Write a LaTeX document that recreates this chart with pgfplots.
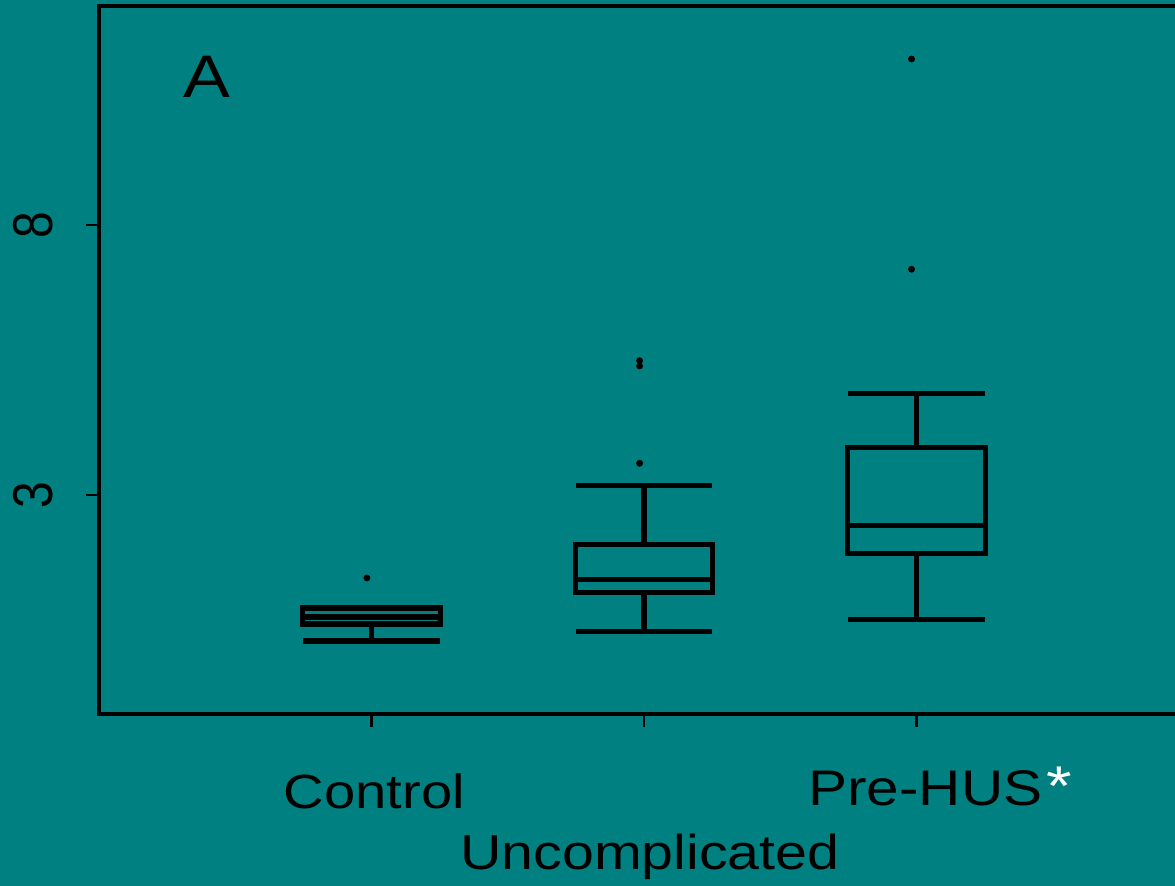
\documentclass[border=0pt]{standalone}
\usepackage{pgfplots}
\pgfplotsset{compat=1.18}
\usepgfplotslibrary{statistics}
\usepackage{graphicx}
\usepackage{fontspec}
\setmainfont{Liberation Sans}[FakeStretch=1.17]
\newfontfamily\plainsans{Liberation Sans}
\definecolor{panelbg}{RGB}{0,128,128}

\begin{document}
\begin{tikzpicture}
% panel background and page extent
\useasboundingbox (-49.5pt,-86pt) rectangle (538pt,357pt);
\fill[panelbg] (-49.5pt,-86pt) rectangle (538pt,357pt);
\clip (-49.5pt,-86pt) rectangle (538pt,357pt);
\begin{axis}[
  scale only axis,
  width=550pt, height=354pt,
  xmin=0, xmax=4.037,
  ymin=-1.056, ymax=12.056,
  clip=false,
  axis line style={line width=1.6pt, black},
  tick style={line width=1.2pt, black},
  tick align=outside,
  xtick pos=bottom, ytick pos=left,
  major tick length=6.5pt,
  xtick={1,2,3}, xticklabels={},
  ytick={3,8},
  yticklabels={\scalebox{1}[1.17]{3},\scalebox{1}[1.17]{8}},
  yticklabel style={rotate=90, anchor=south, inner sep=0pt,
                    font=\plainsans\fontsize{24}{24}\selectfont, yshift=16.5pt},
  boxplot/draw direction=y,
  boxplot/box extend=0.505,
  boxplot/whisker extend=0.5,
]
% Control
\addplot[black, solid, line width=2.6pt,
  boxplot prepared={draw position=1, lower whisker=0.296, lower quartile=0.611,
    median=0.74, upper quartile=0.907, upper whisker=0.907}] coordinates {};
\addplot[only marks, mark=*, mark size=1.5pt, black] coordinates {(0.983,1.463)};
% Uncomplicated
\addplot[black, solid, line width=2.6pt,
  boxplot prepared={draw position=2, lower whisker=0.476, lower quartile=1.20,
    median=1.439, upper quartile=2.087, upper whisker=3.18}] coordinates {};
\addplot[only marks, mark=*, mark size=1.5pt, black]
  coordinates {(1.984,5.487) (1.984,5.389) (1.984,3.587)};
% Pre-HUS
\addplot[black, solid, line width=2.6pt,
  boxplot prepared={draw position=3, lower whisker=0.698, lower quartile=1.920,
    median=2.439, upper quartile=3.883, upper whisker=4.883}] coordinates {};
\addplot[only marks, mark=*, mark size=1.5pt, black]
  coordinates {(2.982,11.074) (2.982,7.18)};

% panel letter and group names
\node[anchor=base west, inner sep=0pt, font=\fontsize{30}{30}\selectfont]
  at (axis cs:0.307,10.357) {A};
\node[anchor=base, inner sep=0pt, font=\fontsize{24}{24}\selectfont]
  at (axis cs:1.011,-2.815) {Control};
\node[anchor=base, inner sep=0pt, font=\fontsize{24.5}{24.5}\selectfont]
  at (axis cs:2.022,-3.944) {Uncomplicated};
\node[anchor=base west, inner sep=0pt, font=\fontsize{25}{25}\selectfont]
  at (axis cs:2.602,-2.76) {Pre-HUS\hspace{2pt}\raisebox{0pt}{\fontsize{28}{28}\selectfont\textcolor{white}{*}}};
\end{axis}
\end{tikzpicture}
\end{document}
